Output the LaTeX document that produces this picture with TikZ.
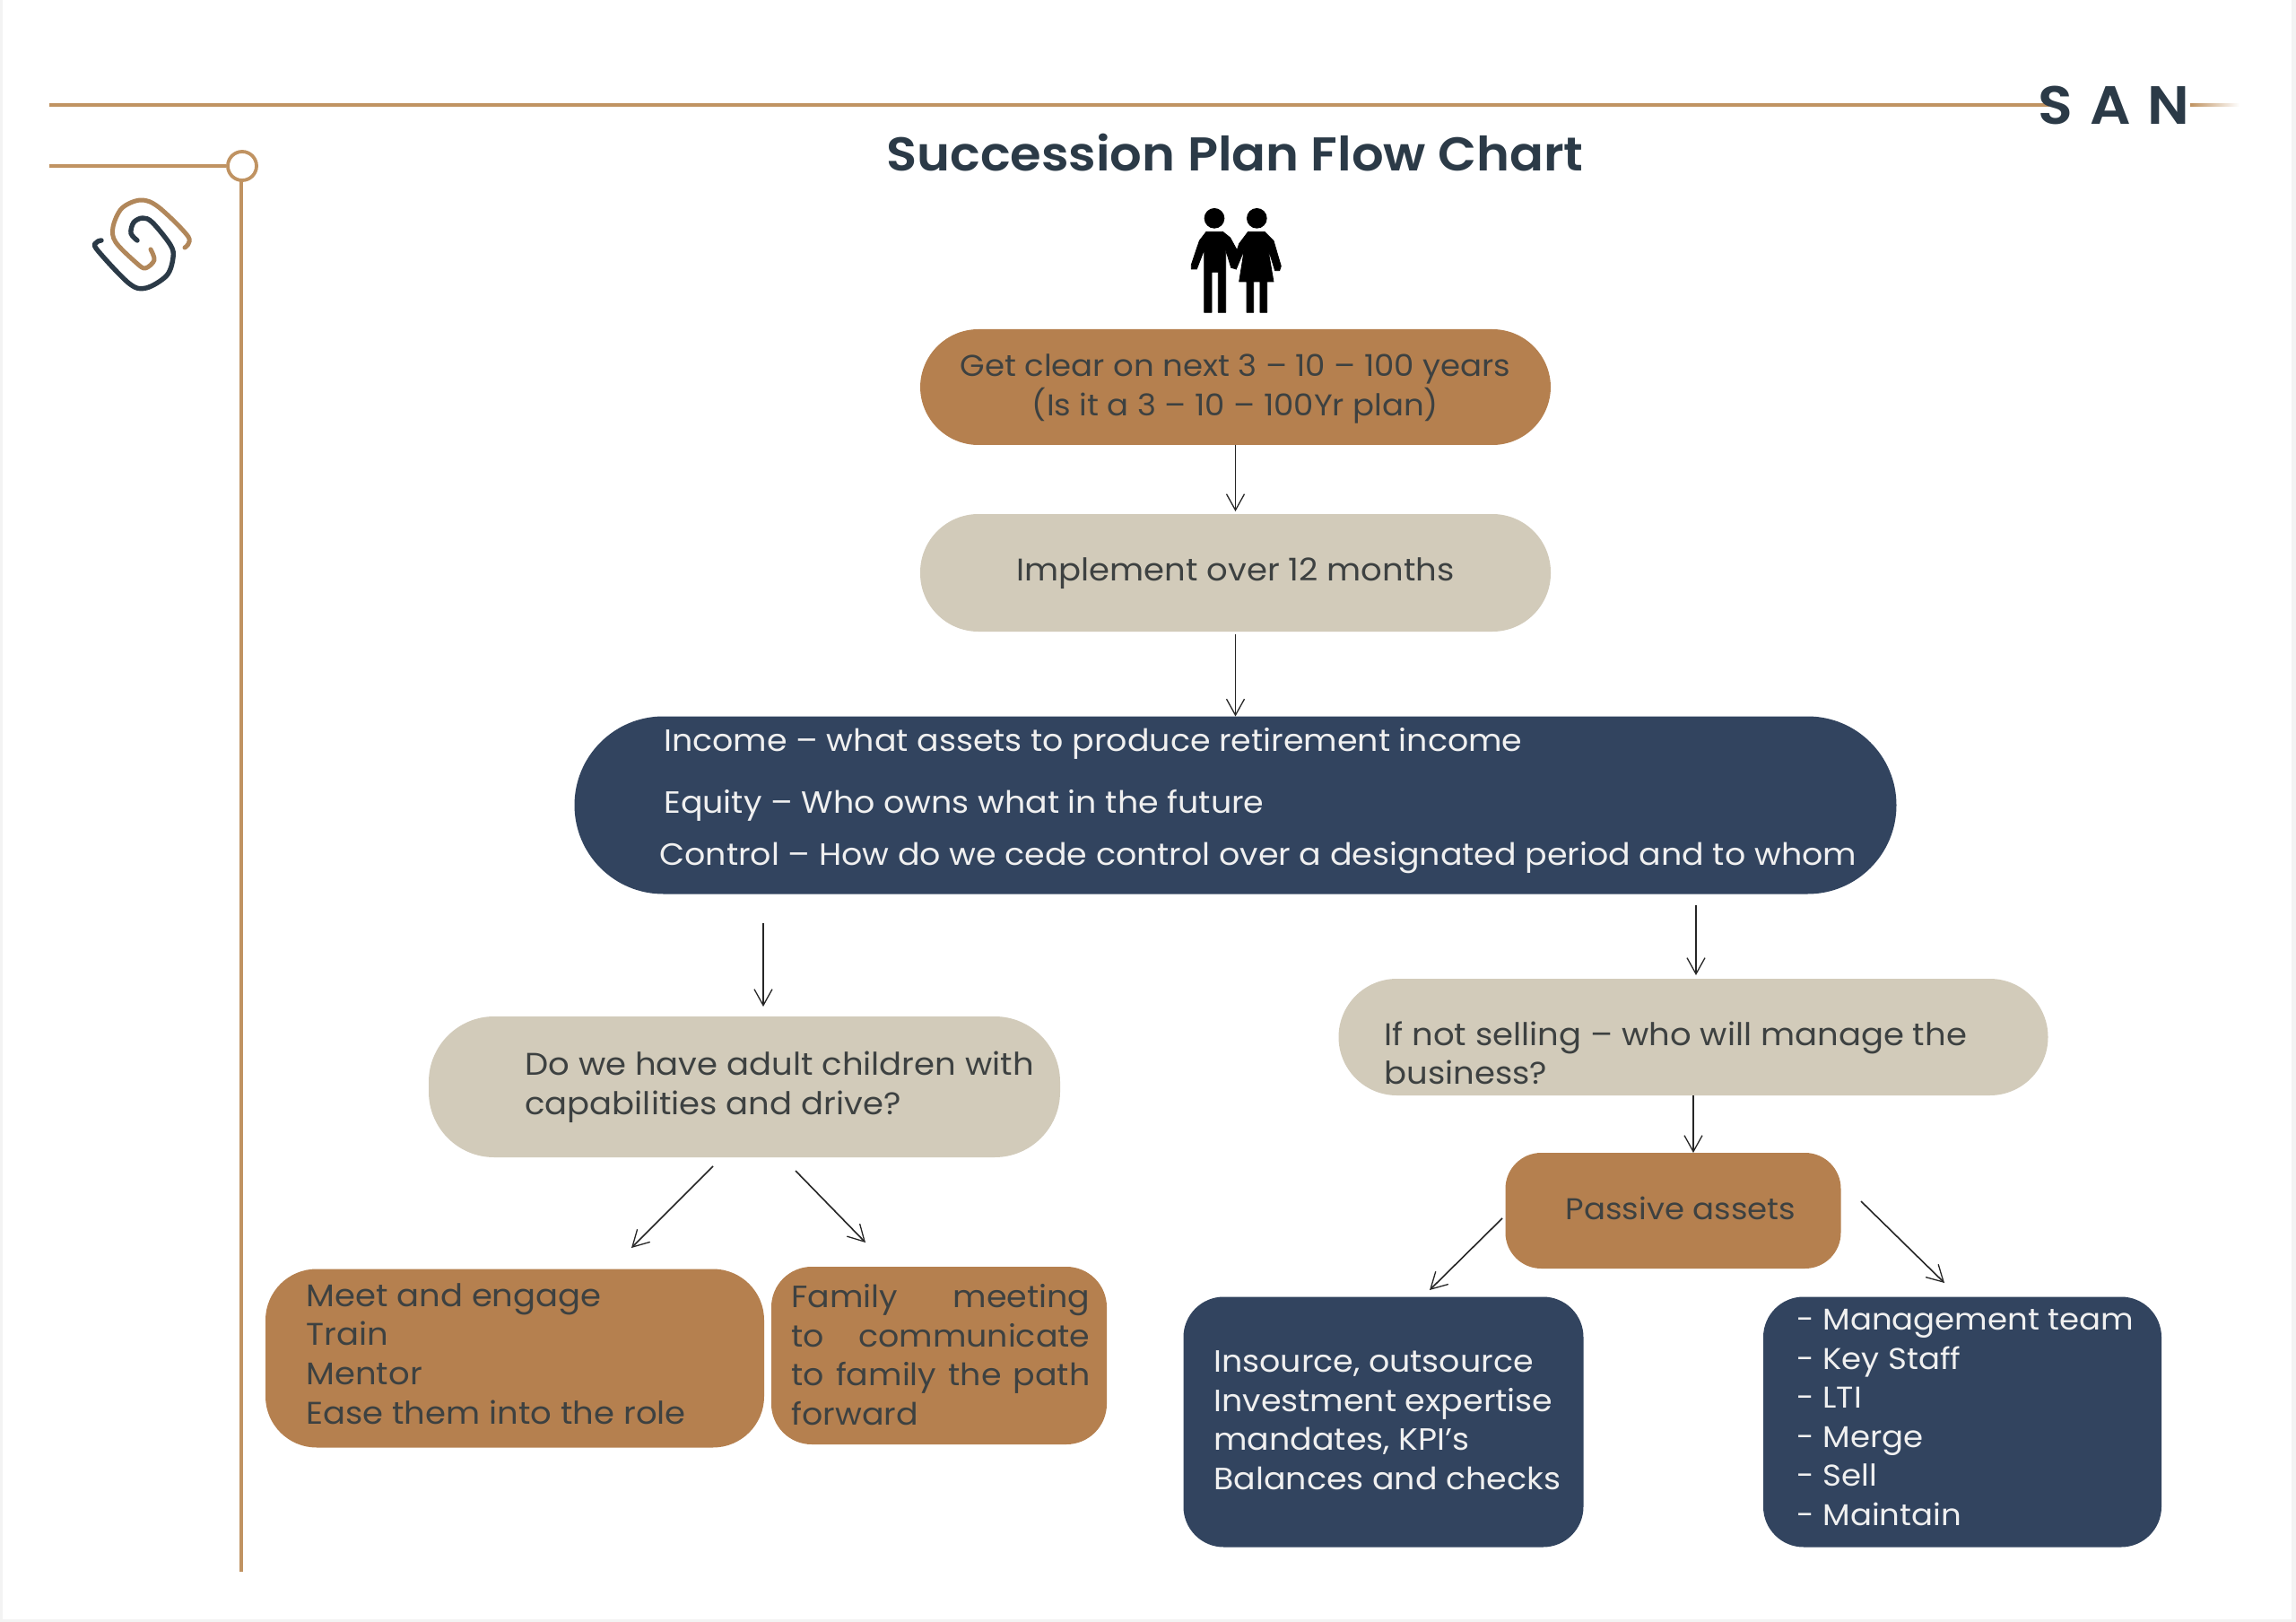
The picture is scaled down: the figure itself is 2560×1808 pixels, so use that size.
\documentclass[tikz,border=0pt]{standalone}
\usepackage{fontspec}
\setmainfont[FakeStretch=1.06,BoldFont={Poppins SemiBold}]{Poppins}
\usetikzlibrary{arrows.meta,calc}
\definecolor{tanbox}{HTML}{B5804F}
\definecolor{beigebox}{HTML}{D2CBBA}
\definecolor{navybox}{HTML}{32445F}
\definecolor{rule}{HTML}{C09362}
\definecolor{ink}{HTML}{3D4141}
\definecolor{slate}{HTML}{2B3A47}
\definecolor{paper}{HTML}{F3F3F3}
\newcommand{\bodyfont}{\fontsize{17.15pt}{21.8pt}\selectfont}
\newcommand{\smallbody}{\fontsize{16.75pt}{21.8pt}\selectfont}
\newcommand{\largebody}{\fontsize{17.45pt}{21.8pt}\selectfont}
\tikzset{
  box/.style n args={3}{inner sep=0pt,outer sep=0pt,minimum width=#1*0.5pt,minimum height=#2*0.5pt,rounded corners=#3*0.5pt},
  tanfill/.style={fill=tanbox},
  beigefill/.style={fill=beigebox},
  navyfill/.style={fill=navybox},
  darktext/.style={text=ink,font=\bodyfont,align=left,inner sep=0pt},
  lighttext/.style={text=white!94!black,font=\bodyfont,align=left,inner sep=0pt},
  flow/.style={draw=black!85,line width=0.8pt,-{Straight Barb[length=9pt,width=10pt,line width=0.65pt]}},
  rulepen/.style={draw=rule,line width=2pt},
}
\begin{document}
\begin{tikzpicture}[x=0.5pt,y=-0.5pt]
\useasboundingbox (0,0) rectangle (2560,1808);
\fill[paper] (0,0) rectangle (2560,1808);
\fill[white] (3,0) rectangle (2555,1805);
% frame rules
\coordinate (r1a) at (55,117);
\coordinate (r1b) at (2285,117);
\draw[rulepen] (r1a) -- (r1b);
\shade[left color=rule,right color=white] (2442,115.5) rectangle (2497,118.5);
\coordinate (r2a) at (55,185);
\node[draw=rule,line width=1.9pt,circle,minimum size=16pt,inner sep=0pt,fill=white] (ring) at (270,185) {};
\draw[rulepen] (r2a) -- (ring.west);
\coordinate (r3b) at (269,1752);
\draw[draw=rule,line width=1.6pt] (ring.south) -- (r3b |- ring.south) -- (r3b);
% logo
\draw[draw=rule!92!black,line width=2.5pt,line cap=round,line join=round]
  plot[smooth,tension=0.55] coordinates {(206,276)(210,264)(177,231)(157,223)(136,232)(126,253)(129,270)(152,293)(162,299)(172,290)(168,278)};
\draw[draw=slate,line width=2.7pt,line cap=round,line join=round]
  plot[smooth,tension=0.55] coordinates {(153,268)(146,260)(149,248)(159,243)(170,248)(190,273)(193,287)(186,307)(163,321)(144,316)(108,278)(108,270)(113,268)};
% title
\node[text=slate,inner sep=0pt,font=\fontsize{26.4pt}{30pt}\selectfont\bfseries] (title) at (1377,170) {Succession Plan Flow Chart};
\node[text=slate,inner sep=0pt,font=\fontsize{30pt}{30pt}\selectfont\bfseries] (brand) at (2357,117) {\addfontfeatures{LetterSpace=32}SAN};
% people icon
\begin{scope}[shift={(1250,200)},scale=0.3333]
\fill (312,130) circle (34);
\fill (454,130) circle (34);
\fill[line join=round,draw=black,line width=0.4pt] (285,175)--(340,175)--(365,195)--(395,250)--(385,300)--(368,295)--(350,235)--(350,445)--(325,445)--(325,310)--(303,310)--(303,445)--(278,445)--(278,235)--(253,300)--(235,300)--(235,285)--(262,205)--cycle;
\fill[line join=round,draw=black,line width=0.4pt] (425,175)--(480,175)--(510,205)--(535,290)--(530,305)--(515,305)--(490,225)--(510,342)--(488,342)--(488,445)--(465,445)--(465,342)--(443,342)--(443,445)--(420,445)--(420,342)--(395,342)--(412,235)--(385,300)--(370,290)--(395,215)--cycle;
\end{scope}
% boxes
\node[box={703}{129}{65},tanfill] (top) at (1377.5,431.5) {};
\node[darktext,font=\smallbody,align=center] (topt) at (1377.5,433.5) {Get clear on next 3 – 10 – 100 years\\(Is it a 3 – 10 – 100Yr plan)};
\node[box={703}{131}{65},beigefill] (impl) at (1377.5,638.5) {};
\node[darktext,font=\largebody,align=center] (implt) at (1377.5,639.5) {Implement over 12 months};
\node[box={1474}{198}{99},navyfill] (navy) at (1377.5,897.5) {};
\node[lighttext,anchor=west] (navy1) at (740,829) {Income – what assets to produce retirement income};
\node[lighttext,anchor=west] (navy2) at (740,898) {Equity – Who owns what in the future};
\node[lighttext,anchor=west] (navy3) at (735,956) {Control – How do we cede control over a designated period and to whom};
\node[box={704}{157}{73},beigefill] (lq) at (830,1211.5) {};
\node[darktext,font=\largebody,anchor=west] (lqt) at (585,1212) {Do we have adult children with\\capabilities and drive?};
\node[box={791}{130}{65},beigefill] (rq) at (1888,1156) {};
\node[darktext,font=\largebody,anchor=west] (rqt) at (1543,1174) {If not selling – who will manage the\\business?};
\node[box={374}{129}{40},tanfill] (passive) at (1865.5,1349.5) {};
\node[darktext,font=\smallbody,anchor=center] (passivet) at (1874,1347) {Passive assets};
\node[box={556}{199}{57},tanfill] (meet) at (574,1514) {};
\node[darktext,font=\largebody,anchor=west] (meett) at (341,1509) {Meet and engage\\Train\\Mentor\\Ease them into the role};
\node[box={374}{198}{45},tanfill] (family) at (1047,1511) {};
\node[darktext,anchor=west] (familyt) at (882,1510) {\makebox[166.5pt][s]{Family meeting}\\\makebox[166.5pt][s]{to communicate}\\\makebox[166.5pt][s]{to family the path}\\forward};
\node[box={446}{279}{45},navyfill] (insource) at (1542.5,1585) {};
\node[lighttext,anchor=west] (insourcet) at (1353,1583) {Insource, outsource\\Investment expertise\\mandates, KPI’s\\Balances and checks};
\node[box={444}{279}{45},navyfill] (team) at (2188,1585) {};
\node[lighttext,font=\smallbody,anchor=west] (teamt) at (2003,1580) {- Management team\\- Key Staff\\- LTI\\- Merge\\- Sell\\- Maintain};
% connectors
\draw[flow] (top.south) -- ++(0,74);
\draw[flow,shorten <=1.5pt] (impl.south) -- (navy.north);
\coordinate (a3a) at (851,1029); \coordinate (a3b) at (851,1122);
\draw[flow] (a3a) -- (a3b);
\coordinate (a4a) at (1891,1009); \coordinate (a4b) at (1891,1087);
\draw[flow] (a4a) -- (a4b);
\coordinate (a5a) at (1888,1221); \coordinate (a5b) at (1888,1285);
\draw[flow] (a5a) -- (a5b);
\coordinate (a6a) at (795,1300); \coordinate (a6b) at (704,1391);
\draw[flow] (a6a) -- (a6b);
\coordinate (a7a) at (887,1305); \coordinate (a7b) at (965,1385);
\draw[flow] (a7a) -- (a7b);
\coordinate (a8a) at (1675,1358); \coordinate (a8b) at (1594,1438);
\draw[flow] (a8a) -- (a8b);
\coordinate (a9a) at (2075,1339); \coordinate (a9b) at (2168,1430);
\draw[flow] (a9a) -- (a9b);
\end{tikzpicture}
\end{document}
